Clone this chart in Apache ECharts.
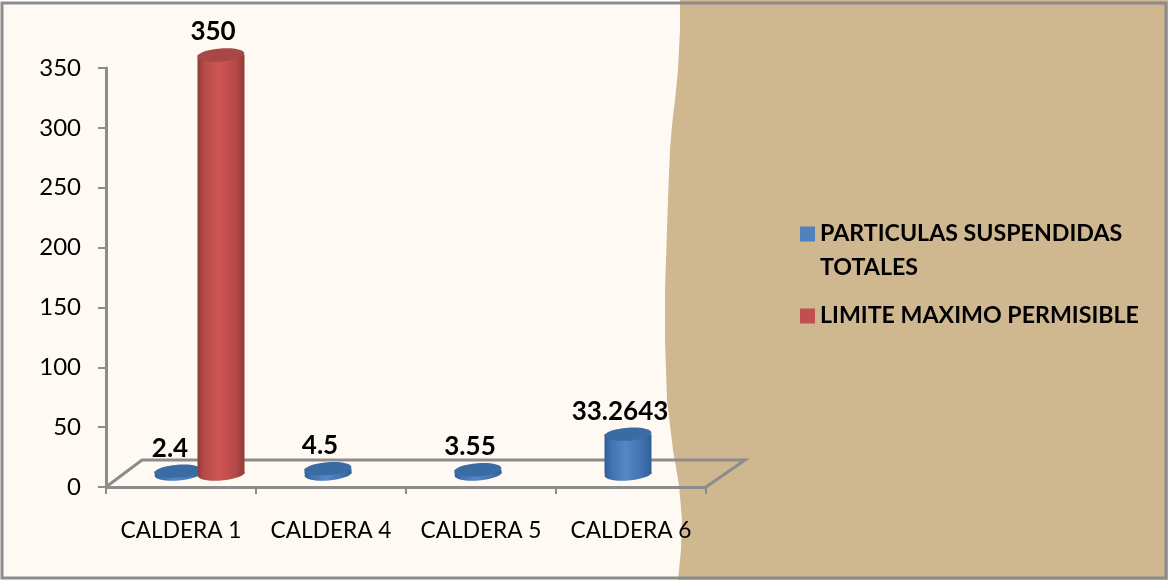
<!DOCTYPE html>
<html>
<head>
<meta charset="utf-8">
<style>html,body{margin:0;padding:0;background:#fff}#c{width:1168px;height:580px}</style>
<script src="https://cdn.jsdelivr.net/npm/echarts@6/dist/echarts.min.js"></script>
</head>
<body>
<div id="c"></div>
<script>
const categories = ['CALDERA 1', 'CALDERA 4', 'CALDERA 5', 'CALDERA 6'];
const particulas = [2.4, 4.5, 3.55, 33.2643];
const limite = [350, null, null, null];
const seriesNames = ['PARTICULAS SUSPENDIDAS TOTALES', 'LIMITE MAXIMO PERMISIBLE'];
const yTicks = { min: 0, max: 350, interval: 50 };

const FONT = 'Lato, "Open Sans", sans-serif';
const CREAM = '#fef9f3', TAN = '#cfb78f', GRAY = '#8c8c8c';
const waveEdge = [[680,0],[680,30],[678,70],[675,100],[672,125],[670,150],[668,200],[666,260],[665,290],[665,340],[667,400],[673,450],[679,485],[682,520],[681,550],[678,580]];
const depth = { x: 39, y: -27 };   // floor depth of the fake 3D box
const baseLift = 13;               // cylinders stand this far up the floor

function cylinder(params, api, values, dx, edge, side, mid, cap) {
  const i = api.value(0);
  const v = values[i];
  if (v == null) return null;
  const base = api.coord([i, 0]);
  const top = api.coord([i, v]);
  const cx = base[0] + dx;
  const by = base[1] - baseLift, ty = top[1] - baseLift;
  const rx = 23.5, ry = 6.5;
  const grad = { type: 'linear', x: 0, y: 0, x2: 1, y2: 0, colorStops: [
    { offset: 0, color: edge }, { offset: 0.14, color: side }, { offset: 0.45, color: mid },
    { offset: 0.8, color: side }, { offset: 1, color: edge } ] };
  return {
    type: 'group',
    children: [
      { type: 'ellipse', rotation: 0.07, originX: cx, originY: by,
        shape: { cx: cx, cy: by, rx: rx, ry: ry }, style: { fill: grad } },
      { type: 'rect', shape: { x: cx - rx, y: ty, width: rx * 2, height: by - ty }, style: { fill: grad } },
      { type: 'ellipse', rotation: 0.07, originX: cx, originY: ty,
        shape: { cx: cx, cy: ty, rx: rx, ry: ry }, style: { fill: cap } },
      { type: 'text', x: cx - 8, y: ty - 23, z2: 50,
        style: { text: String(v), fill: '#000', font: 'bold 26px ' + FONT, align: 'center', verticalAlign: 'middle' } }
    ]
  };
}

const option = {
  animation: false,
  backgroundColor: '#ffffff',
  graphic: { elements: [
    { type: 'rect', z: -20, shape: { x: 2, y: 3, width: 1163, height: 574 }, style: { fill: CREAM } },
    { type: 'polygon', z: -19, shape: { points: waveEdge.concat([[1168,580],[1168,0]]), smooth: 0 }, style: { fill: TAN } },
    { type: 'rect', z: -18, shape: { x: 2, y: 3, width: 1164, height: 575 }, style: { fill: 'none', stroke: GRAY, lineWidth: 3 } }
  ] },
  legend: {
    orient: 'vertical', left: 795, top: 178, itemWidth: 15, itemHeight: 15, itemGap: 14,
    icon: 'rect',
    // The leading blank line keeps the swatch level with the first text line.
    formatter: n => n.replace(/^(.*SUSPENDIDAS) /, '\n$1\n'),
    textStyle: { fontFamily: FONT, fontWeight: 'bold', fontSize: 23.2, color: '#000', lineHeight: 34 },
    data: [ { name: seriesNames[0] }, { name: seriesNames[1] } ]
  },
  grid: { left: 106, right: 462, top: 68, bottom: 93 },
  xAxis: {
    type: 'category', data: categories, boundaryGap: true,
    axisLine: { lineStyle: { color: GRAY, width: 3 } },
    axisTick: { show: true, interval: 0, length: 7, alignWithLabel: false, lineStyle: { color: GRAY, width: 2 } },
    axisLabel: { interval: 0, color: '#000', fontFamily: FONT, fontSize: 22.7, margin: 32 }
  },
  yAxis: {
    type: 'value', min: yTicks.min, max: yTicks.max, interval: yTicks.interval,
    axisLine: { show: true, lineStyle: { color: GRAY, width: 3 } },
    axisTick: { show: true, length: 8, lineStyle: { color: GRAY, width: 2 } },
    splitLine: { show: false },
    axisLabel: { color: '#000', fontFamily: FONT, fontSize: 24, margin: 25, padding: [9, 0, 0, 0] }
  },
  series: [
    {
      name: 'floor', type: 'custom', z: 1, silent: true, legendHoverLink: false,
      data: [[0]],
      renderItem: (params, api) => {
        const cs = params.coordSys;
        const fl = [cs.x, cs.y + cs.height], fr = [cs.x + cs.width, cs.y + cs.height];
        const bl = [fl[0] + depth.x - 3, fl[1] + depth.y], br = [fr[0] + depth.x, fr[1] + depth.y];
        return { type: 'polyline', shape: { points: [fl, bl, br, fr] },
          style: { fill: null, stroke: GRAY, lineWidth: 3 } };
      }
    },
    {
      name: seriesNames[0], type: 'custom', z: 3,
      itemStyle: { color: '#4f81bd' },
      data: categories.map((c, i) => [i, particulas[i]]),
      encode: { x: 0, y: 1 },
      renderItem: (params, api) => cylinder(params, api, particulas, -3, '#2f5f98', '#4272ae', '#5587c6', '#3a6ba3')
    },
    {
      name: seriesNames[1], type: 'custom', z: 4,
      itemStyle: { color: '#c0504d' },
      data: categories.map((c, i) => [i, limite[i]]).filter(d => d[1] != null),
      encode: { x: 0, y: 1 },
      renderItem: (params, api) => cylinder(params, api, limite, 40, '#8f3b39', '#b64a48', '#cf5654', '#a84846')
    }
  ]
};
const chart = echarts.init(document.getElementById('c'), null, { renderer: 'canvas' });
chart.setOption(option);
</script>
</body>
</html>
